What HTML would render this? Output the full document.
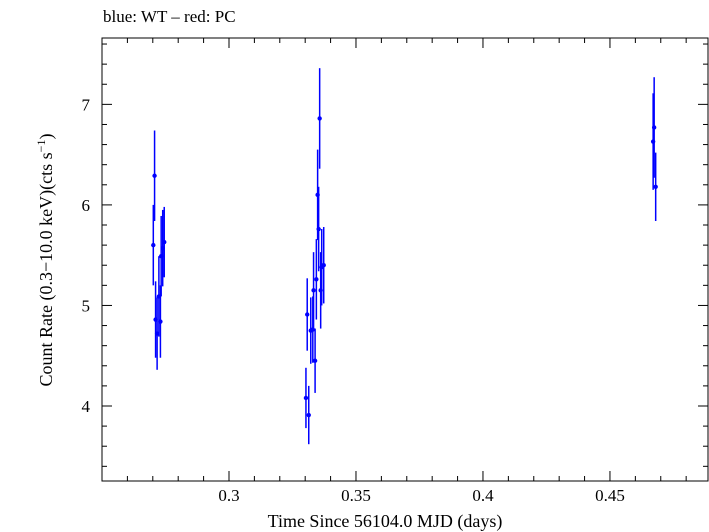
<!DOCTYPE html>
<html><head><meta charset="utf-8"><style>
body{margin:0;background:#fff;}
svg{display:block;font-family:"Liberation Serif",serif;}
</style></head><body>
<svg id="chart" width="709" height="532" viewBox="0 0 709 532" xmlns="http://www.w3.org/2000/svg">
<rect x="0" y="0" width="709" height="532" fill="#fff"/>
<text x="103" y="22" font-size="17">blue: WT – red: PC</text>
<rect x="102" y="38" width="606" height="443" fill="none" stroke="#000" stroke-width="1"/>
<g id="axes"></g>
<g id="marks"></g>
<text x="385" y="527" font-size="18" text-anchor="middle">Time Since 56104.0 MJD (days)</text>
<text transform="translate(52,260) rotate(-90)" font-size="18" text-anchor="middle">Count Rate (0.3−10.0 keV)(cts s<tspan font-size="12" dy="-7">−1</tspan><tspan dy="7">)</tspan></text>
</svg>
<script>
const times=[0.2707,0.2702,0.2745,0.2739,0.2733,0.2724,0.2711,0.2730,0.2717,
0.3357,0.3349,0.3353,0.3373,0.3365,0.3344,0.3361,0.3333,0.3308,0.3322,0.3330,0.3339,0.3303,0.3314,
0.4674,0.4670,0.4680];
const rates=[6.29,5.60,5.63,5.57,5.49,5.09,4.86,4.84,4.72,
6.86,6.10,5.76,5.40,5.38,5.26,5.15,5.15,4.91,4.75,4.76,4.45,4.08,3.91,
6.77,6.63,6.18];
const errors=[0.45,0.40,0.35,0.38,0.40,0.40,0.38,0.36,0.36,
0.50,0.45,0.42,0.38,0.38,0.40,0.38,0.38,0.36,0.33,0.33,0.32,0.30,0.29,
0.50,0.48,0.34];
const xTicks=[0.3,0.35,0.4,0.45];
const yTicks=[4,5,6,7];
const L=102,R=708,T=38,B=481;
const xMin=0.25,xMax=0.4886,yMin=3.254,yMax=7.66;
const xs=v=>L+(v-xMin)/(xMax-xMin)*(R-L);
const ys=v=>B-(v-yMin)/(yMax-yMin)*(B-T);
const NS="http://www.w3.org/2000/svg";
const ax=document.getElementById('axes'),mk=document.getElementById('marks');
function ln(p,x1,y1,x2,y2,c,w){const e=document.createElementNS(NS,'line');e.setAttribute('x1',x1);e.setAttribute('y1',y1);e.setAttribute('x2',x2);e.setAttribute('y2',y2);e.setAttribute('stroke',c);e.setAttribute('stroke-width',w);p.appendChild(e);return e;}
for(let v=0.26;v<0.4886;v+=0.01){const x=xs(v);const major=xTicks.some(t=>Math.abs(t-v)<1e-6);const len=major?10:5;
const a=ln(ax,x,B,x,B-len,'#000',1);


const b=ln(ax,x,T,x,T+len,'#000',1);

}
xTicks.forEach(t=>{const e=document.createElementNS(NS,'text');e.setAttribute('x',xs(t));e.setAttribute('y',B+20);e.setAttribute('font-size','17');e.setAttribute('text-anchor','middle');e.textContent=t;


ax.appendChild(e);});
for(let v=3.4;v<7.66;v+=0.2){const y=ys(v);const major=yTicks.some(t=>Math.abs(t-v)<1e-6);const len=major?10:5;
const a=ln(ax,L,y,L+len,y,'#000',1);


const b=ln(ax,R,y,R-len,y,'#000',1);

}
yTicks.forEach(t=>{const e=document.createElementNS(NS,'text');e.setAttribute('x',L-12);e.setAttribute('y',ys(t)+6);e.setAttribute('font-size','17');e.setAttribute('text-anchor','end');e.textContent=t;


ax.appendChild(e);});
times.forEach((t,i)=>{const x=xs(t);
const eb=ln(mk,x,ys(rates[i]+errors[i]),x,ys(rates[i]-errors[i]),'#0000ff',1.5);


const c=document.createElementNS(NS,'circle');c.setAttribute('cx',x);c.setAttribute('cy',ys(rates[i]));c.setAttribute('r',2.2);c.setAttribute('fill','#0000ff');


mk.appendChild(c);});
</script>
</body></html>
